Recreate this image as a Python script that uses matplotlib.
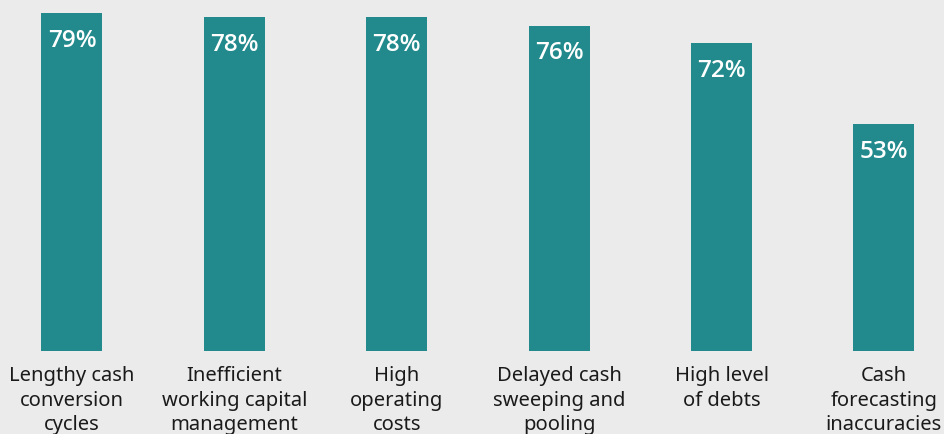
import matplotlib
matplotlib.use("Agg")
import matplotlib.pyplot as plt
import numpy as np

categories = ["Lengthy cash\nconversion\ncycles",
              "Inefficient\nworking capital\nmanagement",
              "High\noperating\ncosts",
              "Delayed cash\nsweeping and\npooling",
              "High level\nof debts",
              "Cash\nforecasting\ninaccuracies"]
values = [79, 78, 78, 76, 72, 53]

bg = "#ebebeb"
teal = "#228a8c"

plt.rcParams['font.family'] = ['Noto Sans', 'DejaVu Sans']

fig = plt.figure(figsize=(9.44, 4.34), dpi=100, facecolor=bg)
ax = fig.add_axes([0, (434 - 351) / 434, 1, 351 / 434])
ax.set_facecolor(bg)

x = np.arange(len(values))
bars = ax.bar(x, values, width=0.375, color=teal)

ax.set_xlim(-0.443, 5.37)
ax.set_ylim(0, 351 / 4.28)

# value labels inside the top of each bar
for b, v in zip(bars, values):
    ax.annotate(f"{v}%", (b.get_x() + b.get_width() / 2, v),
                xytext=(0, -20), textcoords="offset points",
                ha="center", va="center", color="white",
                fontsize=17.5, fontweight="semibold",
                family=["Open Sans", "DejaVu Sans"])

ax.set_xticks(x)
ax.set_xticklabels(categories, fontsize=14.5, color="#1a1a1a", linespacing=1.3)
ax.tick_params(axis="x", length=0, pad=11)
ax.set_yticks([])
for s in ax.spines.values():
    s.set_visible(False)

fig.savefig("out.png", dpi=100, facecolor=bg)
